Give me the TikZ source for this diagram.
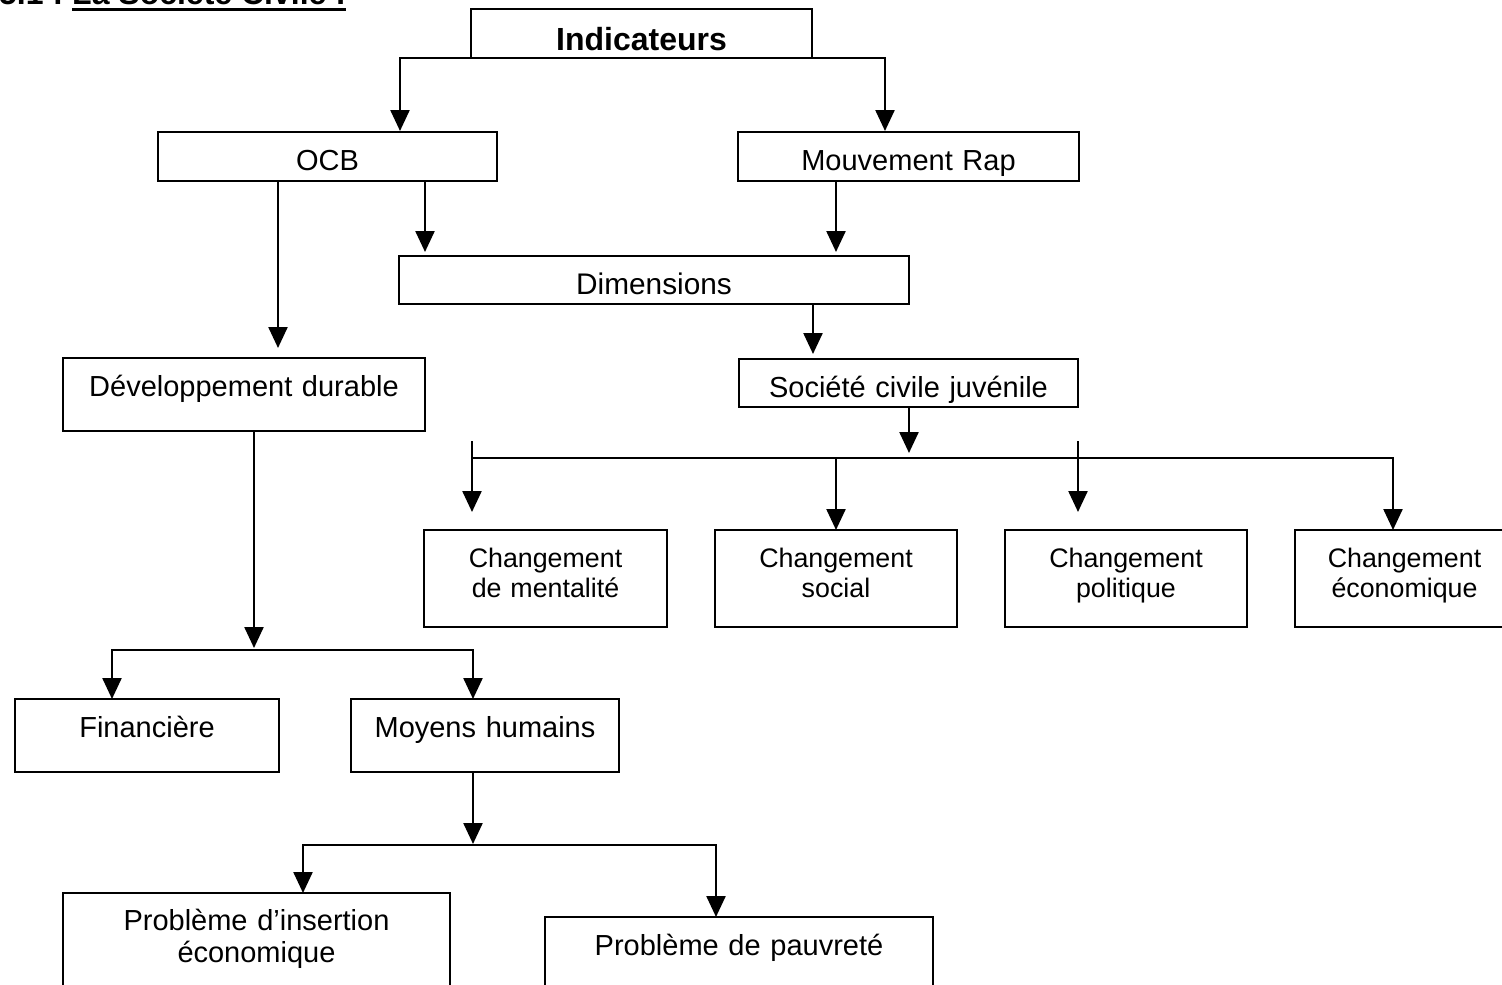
\documentclass[tikz,border=0pt]{standalone}
\usepackage{fontspec}
\setmainfont{Liberation Sans}
\usetikzlibrary{arrows.meta}
\begin{document}
\begin{tikzpicture}[x=1pt,y=-1pt,
  box/.style={draw, line width=2.4pt, inner sep=0pt, outer sep=0pt, align=center, anchor=base,
    font=\fontsize{29}{32}\selectfont},
  chbox/.style={box, font=\fontsize{26.8}{30}\selectfont, text height=37pt, text depth=60pt},
  boldbox/.style={box, font=\bfseries\fontsize{32}{34}\selectfont},
  conn/.style={line width=2.4pt},
  arr/.style={conn, -{Triangle[width=19pt,length=21pt]}},
  arrboth/.style={conn, {Triangle[width=19pt,length=21pt]}-{Triangle[width=19pt,length=21pt]}},
  ttl/.style={inner sep=0pt, anchor=base west, font=\bfseries\fontsize{32}{34}\selectfont}
]
\useasboundingbox (0,0) rectangle (1502,985);
\clip (0,0) rectangle (1502,985);

% title (cut off at the top, as in the reference)
\node[ttl] (titleA) at (-1,5) {5.1 :};
\node[ttl] (titleB) at (72,5) {La Société Civile :};
\draw[line width=3pt] ([yshift=-4.5pt]titleB.base west) -- ([yshift=-4.5pt]titleB.base east);

% boxes
\node[boldbox, text width=341pt, text height=41pt, text depth=8pt] (ind) at (641.5,50) {Indicateurs};
\node[box, text width=339pt, text height=38pt, text depth=11pt] (ocb) at (327.5,170) {OCB};
\node[box, text width=341pt, text height=38pt, text depth=11pt] (rap) at (908.5,170) {Mouvement Rap};
\node[box, text width=510pt, text height=38pt, text depth=10pt, font=\fontsize{29.8}{32}\selectfont] (dim) at (654,294) {Dimensions};
\node[box, text width=339pt, text height=38pt, text depth=10pt] (soc) at (908.5,397) {Société civile juvénile};
\node[box, text width=362pt, text height=38pt, text depth=35pt] (dev) at (244,396) {Développement durable};

\node[chbox, text width=243pt] (ch1) at (545.5,567) {Changement\\de mentalité};
\node[chbox, text width=242pt] (ch2) at (836,567) {Changement\\social};
\node[chbox, text width=242pt] (ch3) at (1126,567) {Changement\\politique};
\node[chbox, text width=219pt] (ch4) at (1404.5,567) {Changement\\économique};

\node[box, text width=264pt, text height=38pt, text depth=35pt] (fin) at (147,737) {Financière};
\node[box, text width=268pt, text height=38pt, text depth=35pt] (moy) at (485,737) {Moyens humains};

\node[box, text width=387pt, text height=37pt, text depth=70pt] (ins) at (256.5,930) {Problème d’insertion\\économique};
\node[box, text width=388pt, text height=38pt, text depth=45pt] (pau) at (739,955) {Problème de pauvreté};

% connector coordinates
\coordinate (ocbin) at (400,131);
\coordinate (rapin) at (885,131);
\coordinate (dimL) at (425,252);
\coordinate (dimR) at (836,252);
\coordinate (devin) at (278,348);
\coordinate (socin) at (813,354);
\coordinate (sbus) at (909,453);
\coordinate (busL) at (472,458);
\coordinate (ch4tip) at (1393,530);
\coordinate (t1top) at (472,441);
\coordinate (t1tip) at (472,512);
\coordinate (t3top) at (1078,441);
\coordinate (t3tip) at (1078,512);
\coordinate (dtip) at (254,648);
\coordinate (fbusM) at (254,650);
\coordinate (fintip) at (112,699);
\coordinate (moytip) at (473,699);
\coordinate (mtip) at (473,844);
\coordinate (mbusM) at (473,845);
\coordinate (instip) at (303,893);
\coordinate (pautip) at (716,917);

% connectors
\draw[arr] (ind.south west) -| (ocbin);
\draw[arr] (ind.south east) -| (rapin);
\draw[arr] (ocb.south -| dimL) -- (dimL);
\draw[arr] (ocb.south -| devin) -- (devin);
\draw[arr] (rap.south -| dimR) -- (dimR);
\draw[arr] (dim.south -| socin) -- (socin);
\draw[arr] (soc.south -| sbus) -- (sbus);
\draw[arr] (busL) -| (ch4tip);
\draw[arr] (busL -| ch2.north) -- (ch2.north);
\draw[arr] (t1top) -- (t1tip);
\draw[arr] (t3top) -- (t3tip);

\draw[arr] (dev.south -| dtip) -- (dtip);
\draw[arrboth] (fintip) |- (fbusM) -| (moytip);
\draw[arr] (moy.south -| mtip) -- (mtip);
\draw[arrboth] (instip) |- (mbusM) -| (pautip);
\end{tikzpicture}
\end{document}
